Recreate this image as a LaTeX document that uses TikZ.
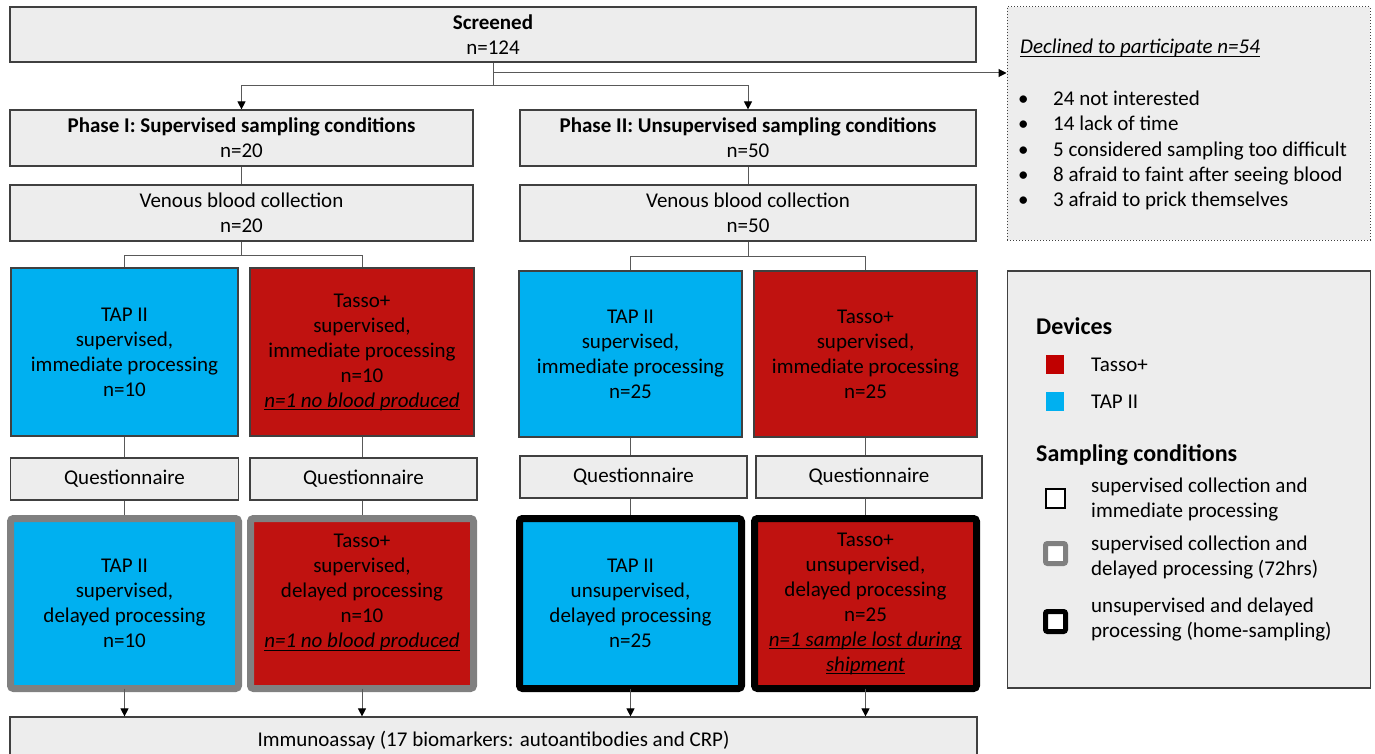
\documentclass[tikz,border=0pt]{standalone}
\usepackage{fontspec}
\setmainfont{Carlito}
\usetikzlibrary{arrows.meta,backgrounds}
\definecolor{boxgray}{HTML}{EDEDED}
\definecolor{linegray}{HTML}{595959}
\definecolor{bordergray}{HTML}{404040}
\definecolor{tapblue}{HTML}{00B0F0}
\definecolor{tassored}{RGB}{192,18,16}
\definecolor{legred}{HTML}{C00000}
\definecolor{delaygray}{HTML}{808080}
\newcommand{\myul}[1]{\setbox0\hbox{#1}\rlap{\rule[-3pt]{\wd0}{1.1pt}}\box0}
\begin{document}
\begin{tikzpicture}[x=1pt,y=-1pt,
  base/.style={draw=bordergray, line width=1.2pt, align=center, inner sep=0pt,
    font=\fontsize{21}{25}\selectfont, text=black},
  graybox/.style={base, fill=boxgray},
  tapbox/.style={base, fill=tapblue},
  tassobox/.style={base, fill=tassored},
  delayg/.style={draw=delaygray, line width=7pt, rounded corners=3pt},
  delayb/.style={draw=black, line width=7pt, rounded corners=3pt},
  conn/.style={draw=linegray, line width=1pt},
  arr/.style={conn, -{Triangle[length=8pt,width=8pt,color=black]}},
  txt/.style={font=\fontsize{21}{25}\selectfont, inner sep=0pt, anchor=base west},
  head/.style={font=\fontsize{24}{28}\selectfont\bfseries, inner sep=0pt, anchor=base west},
]
\useasboundingbox (0,0) rectangle (1375,754);

% top
\node[graybox, minimum width=966pt, minimum height=55pt] (screened) at (493,34.5)
  {\textbf{Screened}\\n=124};
\node[graybox, minimum width=463pt, minimum height=56pt] (phase1) at (241.5,138)
  {\textbf{Phase I: Supervised sampling conditions}\\n=20};
\node[graybox, minimum width=456pt, minimum height=56pt] (phase2) at (748,138)
  {\textbf{Phase II: Unsupervised sampling conditions}\\n=50};
\node[graybox, minimum width=463pt, minimum height=56pt] (venous1) at (241.5,213)
  {Venous blood collection\\n=20};
\node[graybox, minimum width=456pt, minimum height=56pt] (venous2) at (748,213)
  {Venous blood collection\\n=50};

% immediate processing boxes
\node[tapbox, minimum width=227pt, minimum height=168pt] (tap1) at (124.5,352)
  {TAP II\\supervised,\\immediate processing\\n=10};
\node[tassobox, minimum width=224pt, minimum height=168pt] (tasso1) at (362,352)
  {Tasso+\\supervised,\\immediate processing\\n=10\\\myul{\textit{n=1 no blood produced}}};
\node[tapbox, minimum width=223pt, minimum height=166pt] (tap2) at (630.5,354)
  {TAP II\\supervised,\\immediate processing\\n=25};
\node[tassobox, minimum width=223pt, minimum height=166pt] (tasso2) at (865.5,354)
  {Tasso+\\supervised,\\immediate processing\\n=25};

% questionnaires
\node[graybox, minimum width=228pt, minimum height=42pt] (q1) at (124.5,479) {Questionnaire};
\node[graybox, minimum width=227pt, minimum height=42pt] (q2) at (363.5,479) {Questionnaire};
\node[graybox, minimum width=227pt, minimum height=42pt] (q3) at (633.5,477) {Questionnaire};
\node[graybox, minimum width=226pt, minimum height=42pt] (q4) at (869,477) {Questionnaire};

% delayed boxes
\node[tapbox, delayg, minimum width=228pt, minimum height=170pt] (d1) at (124.5,603.5)
  {TAP II\\supervised,\\delayed processing\\n=10};
\node[tassobox, delayg, minimum width=223pt, minimum height=170pt] (d2) at (362,603.5)
  {Tasso+\\supervised,\\delayed processing\\n=10\\\myul{\textit{n=1 no blood produced}}\\~};
\node[tapbox, delayb, minimum width=222pt, minimum height=170pt] (d3) at (630.5,603.5)
  {TAP II\\unsupervised,\\delayed processing\\n=25};
\node[tassobox, delayb, minimum width=222pt, minimum height=170pt] (d4) at (865.5,603.5)
  {Tasso+\\unsupervised,\\delayed processing\\n=25\\\myul{\textit{n=1 sample lost during}}\\\myul{\textit{shipment}}};

% immunoassay
\node[graybox, minimum width=967pt, minimum height=47pt] (immuno) at (493.5,740.5)
  {Immunoassay (17 biomarkers: autoantibodies and CRP)};

% declined box
\node[draw=black!75, dotted, line width=1pt, fill=boxgray, minimum width=363pt,
  minimum height=233pt, inner sep=0pt] (declined) at (1188.5,123.5) {};
\node[txt, font=\fontsize{21}{25}\selectfont\itshape] (dtitle) at (1020,54)
  {\myul{Declined to participate n=54}};
\node[txt] (b1) at (1018,106) {\textbullet};
\node[txt] (t1) at (1053,106) {24 not interested};
\node[txt] (b2) at (1018,131) {\textbullet};
\node[txt] (t2) at (1053,131) {14 lack of time};
\node[txt] (b3) at (1018,157) {\textbullet};
\node[txt] (t3) at (1053,157) {5 considered sampling too difficult};
\node[txt] (b4) at (1018,182) {\textbullet};
\node[txt] (t4) at (1053,182) {8 afraid to faint after seeing blood};
\node[txt] (b5) at (1018,207) {\textbullet};
\node[txt] (t5) at (1053,207) {3 afraid to prick themselves};

% legend
\node[draw=bordergray, line width=1.2pt, fill=boxgray, minimum width=363pt,
  minimum height=417pt, inner sep=0pt] (legend) at (1189,479.5) {};
\node[head] (ldev) at (1036,334) {Devices};
\node[fill=legred, minimum width=18pt, minimum height=19pt, inner sep=0pt] (lred) at (1055,364) {};
\node[txt] (ltasso) at (1091,371) {Tasso+};
\node[fill=tapblue, minimum width=18pt, minimum height=19pt, inner sep=0pt] (lblue) at (1055,401) {};
\node[txt] (ltap) at (1091,408) {TAP II};
\node[head] (lsamp) at (1036,461) {Sampling conditions};
\node[draw=black, line width=1.4pt, fill=white, minimum size=19pt, inner sep=0pt] (lw) at (1055.5,498.5) {};
\node[txt] (lw1) at (1091,492) {supervised collection and};
\node[txt] (lw2) at (1091,517) {immediate processing};
\node[draw=delaygray, line width=5pt, rounded corners=2pt, fill=white, minimum size=20pt, inner sep=0pt] (lg) at (1055.5,553.5) {};
\node[txt] (lg1) at (1091,550) {supervised collection and};
\node[txt] (lg2) at (1091,575) {delayed processing (72hrs)};
\node[draw=black, line width=5pt, rounded corners=2pt, fill=white, minimum size=20pt, inner sep=0pt] (lb) at (1055.5,621.5) {};
\node[txt] (lb1) at (1091,612) {unsupervised and delayed};
\node[txt] (lb2) at (1091,637) {processing (home-sampling)};

% connectors
\begin{scope}[on background layer]
\fill[white] (0,0) rectangle (1375,754);
\coordinate (jA) at (493,86);
\coordinate (jD) at (493,73);
\draw[conn] (screened.south) -- (jA);
\draw[arr] (jA) -| (phase1.north);
\draw[arr] (jA) -| (phase2.north);
\draw[arr] (jD) -- (jD -| declined.west);
\draw[conn] (phase1.south) -- (venous1.north);
\draw[conn] (phase2.south) -- (venous2.north);
\coordinate (jB) at (241.5,255);
\coordinate (jC) at (748,256);
\draw[conn] (venous1.south) -- (jB);
\draw[conn] (jB) -| (tap1.north);
\draw[conn] (jB) -| (tasso1.north);
\draw[conn] (venous2.south) -- (jC);
\draw[conn] (jC) -| (tap2.north);
\draw[conn] (jC) -| (tasso2.north);
\draw[conn] (tap1.south) -- (tap1.south |- q1.north);
\draw[conn] (tasso1.south) -- (tasso1.south |- q2.north);
\draw[conn] (tap2.south) -- (tap2.south |- q3.north);
\draw[conn] (tasso2.south) -- (tasso2.south |- q4.north);
\draw[conn] (d1.north |- q1.south) -- (d1.north);
\draw[conn] (d2.north |- q2.south) -- (d2.north);
\draw[conn] (d3.north |- q3.south) -- (d3.north);
\draw[conn] (d4.north |- q4.south) -- (d4.north);
\end{scope}
\draw[arr] ([yshift=3.5pt]d1.south) -- (d1.south |- immuno.north);
\draw[arr] ([yshift=3.5pt]d2.south) -- (d2.south |- immuno.north);
\draw[arr] ([yshift=3.5pt]d3.south) -- (d3.south |- immuno.north);
\draw[arr] ([yshift=3.5pt]d4.south) -- (d4.south |- immuno.north);
\end{tikzpicture}
\end{document}
